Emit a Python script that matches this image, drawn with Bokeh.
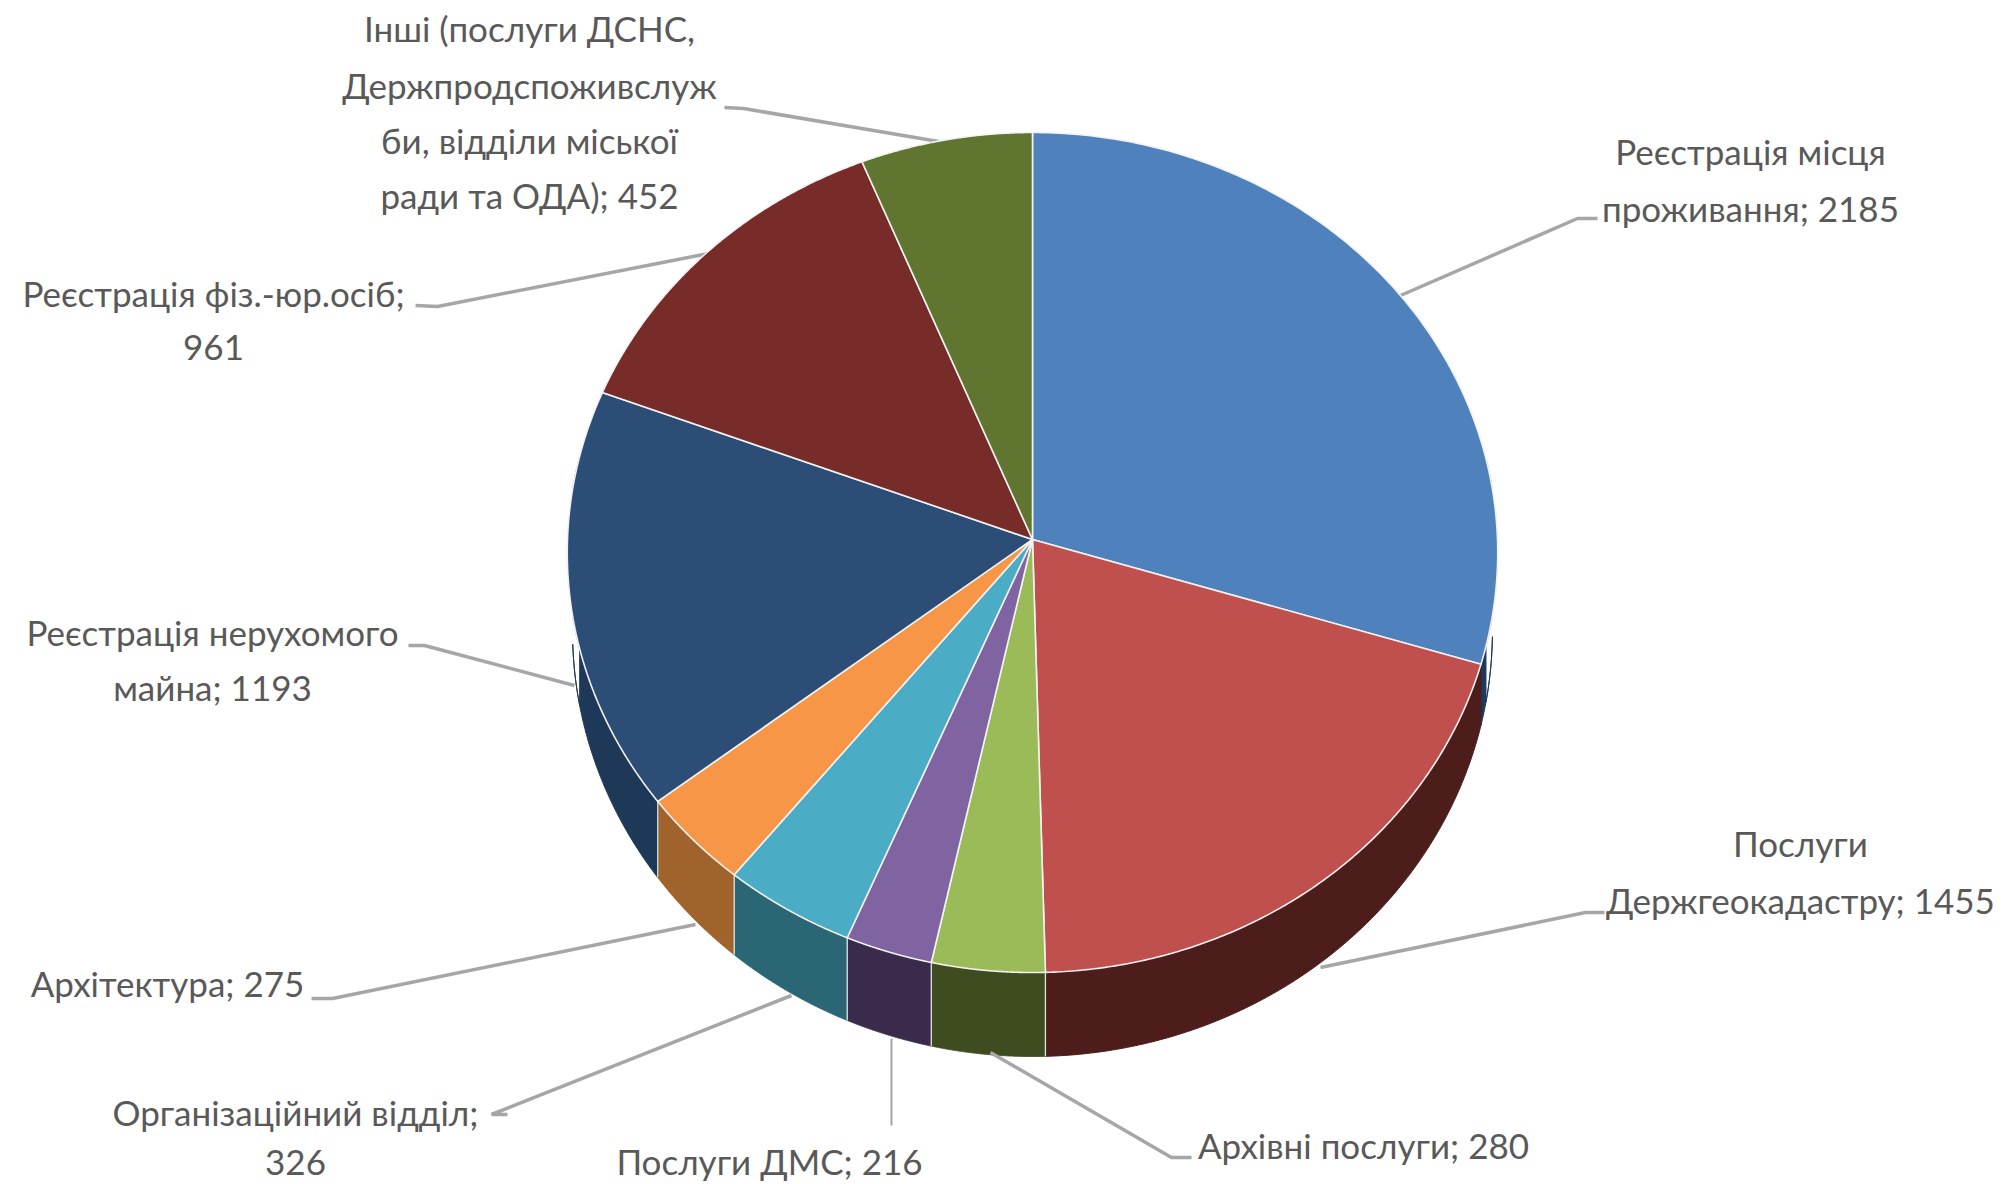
import numpy as np
from bokeh.plotting import figure
from bokeh.models import Range1d
from bokeh.core.properties import value
from bokeh.embed import file_html
from bokeh.resources import INLINE

categories = ["Реєстрація місця проживання", "Послуги Держгеокадастру", "Архівні послуги",
              "Послуги ДМС", "Організаційний відділ", "Архітектура",
              "Реєстрація нерухомого майна", "Реєстрація фіз.-юр.осіб",
              "Інші (послуги ДСНС, Держпродспоживслужби, відділи міської ради та ОДА)"]
values = [2185, 1455, 280, 216, 326, 275, 1193, 961, 452]
top_colors = ["#4f81bd", "#c0504d", "#9bbb59", "#8064a2", "#4bacc6", "#f79646", "#2c4d75", "#772c2a", "#5f7530"]
wall_colors = ["#1c3a5e", "#4d1d1b", "#3f4c20", "#3a2b4c", "#2a6674", "#a0632c", "#1e3858", "#4d1d1b", "#3f4c20"]

label_lines = [
    ["Реєстрація місця", "проживання; 2185"],
    ["Послуги", "Держгеокадастру; 1455"],
    ["Архівні послуги; 280"],
    ["Послуги ДМС; 216"],
    ["Організаційний відділ;", "326"],
    ["Архітектура; 275"],
    ["Реєстрація нерухомого", "майна; 1193"],
    ["Реєстрація фіз.-юр.осіб;", "961"],
    ["Інші (послуги ДСНС,", "Держпродспоживслуж", "би, відділи міської", "ради та ОДА); 452"],
]
label_x = [1750, 1800, 1363, 769, 295, 167, 212, 213, 529]
label_y = [[150, 207], [842, 899], [1144], [1160], [1111, 1162], [982], [631, 686], [292, 347], [27, 84, 139, 194]]

leader_x = [[1597, 1577, 1400], [1604, 1585, 1320], [1191, 1171, 990], [891, 891], [507, 491, 791],
            [311, 332, 695], [408, 424, 574], [415, 437, 708], [724, 743, 944]]
leader_y = [[218, 218, 295], [912, 912, 967], [1157, 1157, 1052], [1038, 1125], [1114, 1114, 995],
            [998, 998, 924], [645, 645, 685], [305, 306, 253], [107, 108, 142]]
leader_w = [3.5, 3.5, 3.5, 2, 3.5, 3.5, 3.5, 3.5, 3.5]

# Projection of the tilted pie onto the page
CX, AY, A, B, K = 1032.0, 539.0, 465.0, 419.6, 0.031   # rim perspective
BX, BY, BRX, BRY = 1032.0, 630.0, 460.0, 426.0         # bottom ellipse of the wall

p = figure(width=2013, height=1184, output_backend="svg", toolbar_location=None,
           x_range=Range1d(0, 2013), y_range=Range1d(1184, 0), min_border=0)
p.axis.visible = False
p.grid.visible = False
p.outline_line_color = None
p.background_fill_color = "#ffffff"
p.border_fill_color = "#ffffff"

total = sum(values)
edges = np.concatenate([[0], np.cumsum(values)]) / total * 2 * np.pi

def rim(t):
    d = 1 + K * np.cos(t)
    return CX + A * np.sin(t) / d, AY - B * np.cos(t) / d

def bottom(x):
    return BY + BRY * np.sqrt(1 - ((x - BX) / BRX) ** 2)

# walls
seam_x, seam_y = [], []
for i in range(len(values)):
    t = np.linspace(edges[i], edges[i + 1], 160)
    x, y = rim(t)
    lower = (np.abs(x - BX) < BRX) & (np.cos(t) < 0.2)
    x, y = x[lower], y[lower]
    if len(x) < 2:
        continue
    by = bottom(x)
    keep = by >= y
    x, y, by = x[keep], y[keep], by[keep]
    if len(x) < 2:
        continue
    p.patch(np.concatenate([x, x[::-1]]), np.concatenate([y, by[::-1]]),
            fill_color=wall_colors[i], line_color=wall_colors[i], line_width=1)
    ex, ey = rim(edges[i + 1])
    if i > 0 and abs(ex - BX) < BRX and np.cos(edges[i + 1]) < 0:
        seam_x.append([ex, ex]); seam_y.append([ey, bottom(ex)])
p.multi_line(seam_x, seam_y, line_color="#dfe6df", line_width=1.3)

# leaders
p.multi_line(leader_x, leader_y, line_color="#a6a6a6", line_width=leader_w)

# redraw walls' front edge is unnecessary; top of the pie
for i in range(len(values)):
    t = np.linspace(edges[i], edges[i + 1], 160)
    x, y = rim(t)
    p.patch(np.concatenate([[CX], x]), np.concatenate([[AY], y]),
            fill_color=top_colors[i], line_color="#f2f2f2", line_width=1.6)

# labels
tx, ty, tt = [], [], []
for lines, lx, ys in zip(label_lines, label_x, label_y):
    for s, yy in zip(lines, ys):
        tx.append(lx); ty.append(yy); tt.append(s)
p.text(tx, ty, text=tt, text_font=value("Lato"), text_font_size="35px",
       text_color="#595959", text_align="center", text_baseline="middle")

open("out.html", "w").write(file_html(p, INLINE))
